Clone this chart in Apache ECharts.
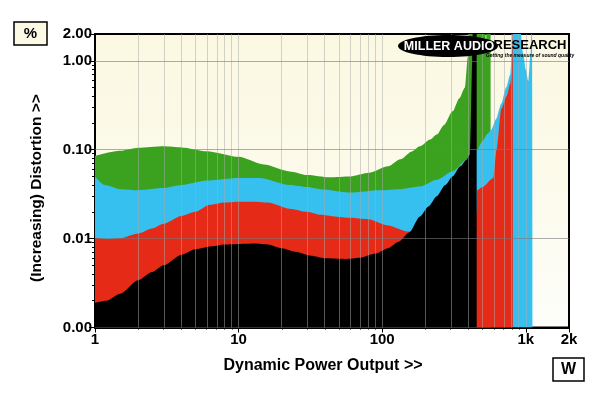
<!DOCTYPE html>
<html>
<head>
<meta charset="utf-8">
<script src="https://cdn.jsdelivr.net/npm/echarts@6/dist/echarts.min.js"></script>
<style>
html,body{margin:0;padding:0;background:#fff;}
#chart{width:600px;height:393px;}
</style>
</head>
<body>
<div id="chart"></div>
<script>
// ---- data (power in W, distortion in %) ----
const greenW   = [1, 1.5, 2, 3, 4, 6, 10, 15, 22.7, 30, 43, 60, 81, 110, 134, 160, 183, 216, 240, 270, 309, 345, 377, 395, 408, 520, 528, 535, 569, 569];
const greenPct = [0.085, 0.097, 0.105, 0.109, 0.106, 0.096, 0.083, 0.068, 0.057, 0.052, 0.049, 0.05, 0.055, 0.065, 0.078, 0.095, 0.109, 0.13, 0.148, 0.19, 0.27, 0.38, 0.5, 1.1, 3, 3, 1.3, 3, 3, 0.001];

const blueW   = [1, 1.17, 1.5, 2, 3, 4, 6, 10, 14, 22.7, 30, 37, 60, 96, 133, 183, 240, 309, 387, 408, 459, 500, 540, 575, 620, 676, 730, 780, 800, 815, 897, 960, 1000, 1041, 1080, 1105, 1115, 1115];
const bluePct = [0.05, 0.04, 0.036, 0.035, 0.037, 0.04, 0.045, 0.048, 0.048, 0.04, 0.038, 0.036, 0.033, 0.035, 0.036, 0.0386, 0.046, 0.057, 0.077, 0.09, 0.1, 0.125, 0.15, 0.168, 0.22, 0.33, 0.5, 0.7, 1.2, 3, 3, 1.2, 0.8, 0.59, 1.2, 3, 3, 0.001];

const redW   = [1, 1.2, 1.5, 2, 2.5, 3, 4, 5, 6.3, 8, 10, 13, 16, 22.7, 30, 37, 50, 60, 80, 110, 150, 200, 300, 455, 459, 500, 594, 626, 676, 735, 780, 800, 812, 815];
const redPct = [0.0102, 0.0099, 0.0101, 0.0114, 0.013, 0.0147, 0.018, 0.02, 0.024, 0.0255, 0.026, 0.026, 0.0255, 0.0217, 0.02, 0.0185, 0.0175, 0.0171, 0.0165, 0.014, 0.012, 0.012, 0.015, 0.02, 0.035, 0.038, 0.048, 0.1, 0.29, 0.4, 0.55, 0.74, 3, 0.001];

const blackW   = [1, 1.2, 1.5, 2, 2.5, 3, 4, 5, 6.5, 8, 10, 13, 16, 20, 25, 32, 40, 55, 70, 90, 110, 130, 155, 183, 210, 240, 275, 309, 350, 387, 408, 431, 455, 455];
const blackPct = [0.0019, 0.002, 0.0024, 0.0034, 0.0042, 0.005, 0.0066, 0.0076, 0.0082, 0.0086, 0.0087, 0.0088, 0.0086, 0.0078, 0.0071, 0.0064, 0.006, 0.0059, 0.0061, 0.0068, 0.0078, 0.0092, 0.0118, 0.0177, 0.023, 0.03, 0.04, 0.05, 0.065, 0.077, 0.088, 3, 3, 0.001];

const xTickVals   = [1, 10, 100, 1000, 2000];
const xTickLabels = ['1', '10', '100', '1k', '2k'];
const xMinorVals  = [2,3,4,5,6,7,8,9,20,30,40,50,60,70,80,90,200,300,400,500,600,700,800,900];
const xGridVals   = [2,3,4,5,6,7,8,9,10,20,30,40,50,60,70,80,90,100,200,300,400,500,600,700,800,900,1000];

const yTickVals   = [0.001, 0.01, 0.1, 1, 2];
const yTickLabels = ['0.00', '0.01', '0.10', '1.00', '2.00'];
const yMinorVals  = [0.002,0.003,0.004,0.005,0.006,0.007,0.008,0.009,0.02,0.03,0.04,0.05,0.06,0.07,0.08,0.09,0.2,0.3,0.4,0.5,0.6,0.7,0.8,0.9];
const yGridVals   = [0.01, 0.1, 1];

// ---- helpers ----
const L = Math.log10;
const pts = (ws, ps) => ws.map((w, i) => [L(w), L(ps[i])]);
const X_MIN = L(1), X_MAX = L(2000), Y_MIN = L(0.001), Y_MAX = L(2);
const FONT = '"Liberation Sans", Arial, sans-serif';
const near = (arr, v) => arr.findIndex(a => Math.abs(L(a) - v) < 1e-6);

function area(name, data, color) {
  return {
    name, type: 'line', data, showSymbol: false, symbol: 'none',
    smooth: 0.25, smoothMonotone: 'x',
    lineStyle: { width: 0, color }, itemStyle: { color },
    areaStyle: { color, opacity: 1, origin: 'start' },
    silent: true, clip: true
  };
}

const chart = echarts.init(document.getElementById('chart'), null, { renderer: 'canvas' });
chart.setOption({
  animation: false,
  backgroundColor: '#ffffff',
  grid: {
    left: 95, right: 31, top: 34, bottom: 65.5, show: true,
    backgroundColor: { type: 'linear', x: 0, y: 0, x2: 0, y2: 1, colorStops: [
      { offset: 0, color: '#fbf8e2' }, { offset: 0.5, color: '#fcfaea' }, { offset: 1, color: '#fefefb' } ] },
    borderColor: '#000', borderWidth: 2
  },
  xAxis: [{
    type: 'value', min: X_MIN, max: X_MAX, position: 'bottom',
    axisLine: { show: true, onZero: false, lineStyle: { color: '#000', width: 2 } },
    splitLine: { show: false },
    axisTick: { show: true, customValues: xTickVals.map(L), length: 5, lineStyle: { color: '#000', width: 1 } },
    axisLabel: { customValues: xTickVals.map(L), formatter: v => xTickLabels[near(xTickVals, v)] || '', color: '#000', fontFamily: FONT, fontWeight: 'bold', fontSize: 15, margin: 5 }
  }, {
    type: 'value', min: X_MIN, max: X_MAX, position: 'bottom', offset: 0,
    axisLine: { show: false, onZero: false }, splitLine: { show: false }, axisLabel: { show: false },
    axisTick: { show: true, customValues: xMinorVals.map(L), length: 2, lineStyle: { color: '#000', width: 1 } }
  }],
  yAxis: [{
    type: 'value', min: Y_MIN, max: Y_MAX, position: 'left',
    axisLine: { show: true, onZero: false, lineStyle: { color: '#000', width: 2 } },
    splitLine: { show: false },
    axisTick: { show: true, customValues: yTickVals.map(L), length: 6, lineStyle: { color: '#000', width: 1 } },
    axisLabel: { customValues: yTickVals.map(L), formatter: v => yTickLabels[near(yTickVals, v)] || '', color: '#000', fontFamily: FONT, fontWeight: 'bold', fontSize: 15, margin: 3 }
  }, {
    type: 'value', min: Y_MIN, max: Y_MAX, position: 'left', offset: 0,
    axisLine: { show: false, onZero: false }, splitLine: { show: false }, axisLabel: { show: false },
    axisTick: { show: true, customValues: yMinorVals.map(L), length: 3, lineStyle: { color: '#000', width: 1 } }
  }],
  series: [
    area('green', pts(greenW, greenPct), '#3ba220'),
    area('blue', pts(blueW, bluePct), '#36c0ef'),
    area('red', pts(redW, redPct), '#e52a17'),
    area('black', pts(blackW, blackPct), '#000000'),
    {
      name: 'grid', type: 'line', data: [[X_MIN, Y_MIN]], showSymbol: false, symbol: 'none',
      lineStyle: { width: 0 }, silent: true,
      markLine: {
        silent: true, symbol: ['none', 'none'], label: { show: false }, animation: false, z: 10,
        data: [
          ...xGridVals.map(v => ({ xAxis: L(v), lineStyle: { color: 'rgba(170,170,170,0.5)', width: 1, type: 'solid' } })),
          ...yGridVals.map(v => ({ yAxis: L(v), lineStyle: { color: 'rgba(120,120,120,0.6)', width: 1, type: 'solid' } }))
        ]
      }
    }
  ],
  graphic: [
    // unit boxes
    { type: 'rect', shape: { x: 14, y: 22, width: 33, height: 23 }, style: { fill: '#fcf9e5', stroke: '#000', lineWidth: 1.5 } },
    { type: 'text', x: 30.5, y: 34, style: { text: '%', font: 'bold 15px ' + FONT, fill: '#000', align: 'center', verticalAlign: 'middle' } },
    { type: 'rect', shape: { x: 553, y: 358, width: 31, height: 23 }, style: { fill: '#ffffff', stroke: '#000', lineWidth: 1.5 } },
    { type: 'text', x: 568.5, y: 370, style: { text: 'W', font: 'bold 16px ' + FONT, fill: '#000', align: 'center', verticalAlign: 'middle' } },
    // axis titles
    { type: 'text', x: 323, y: 366, style: { text: 'Dynamic Power Output >>', font: 'bold 16px ' + FONT, fill: '#000', align: 'center', verticalAlign: 'middle' } },
    { type: 'text', x: 37, y: 188, rotation: Math.PI / 2, style: { text: '(Increasing) Distortion >>', font: 'bold 15.5px ' + FONT, fill: '#000', align: 'center', verticalAlign: 'middle' } },
    // logo
    { type: 'ellipse', z: 20, shape: { cx: 448, cy: 46, rx: 50, ry: 11 }, style: { fill: '#000' } },
    { type: 'text', z: 21, x: 449, y: 46.5, style: { text: 'MILLER AUDIO', font: 'bold 12.5px ' + FONT, fill: '#fff', align: 'center', verticalAlign: 'middle' } },
    { type: 'text', z: 21, x: 530, y: 45.5, style: { text: 'RESEARCH', font: 'bold 13px ' + FONT, fill: '#000', align: 'center', verticalAlign: 'middle' } },
    { type: 'text', z: 21, x: 530, y: 55.5, style: { text: 'Getting the measure of sound quality', font: 'italic bold 5px ' + FONT, fill: '#000', align: 'center', verticalAlign: 'middle' } }
  ]
});
</script>
</body>
</html>
